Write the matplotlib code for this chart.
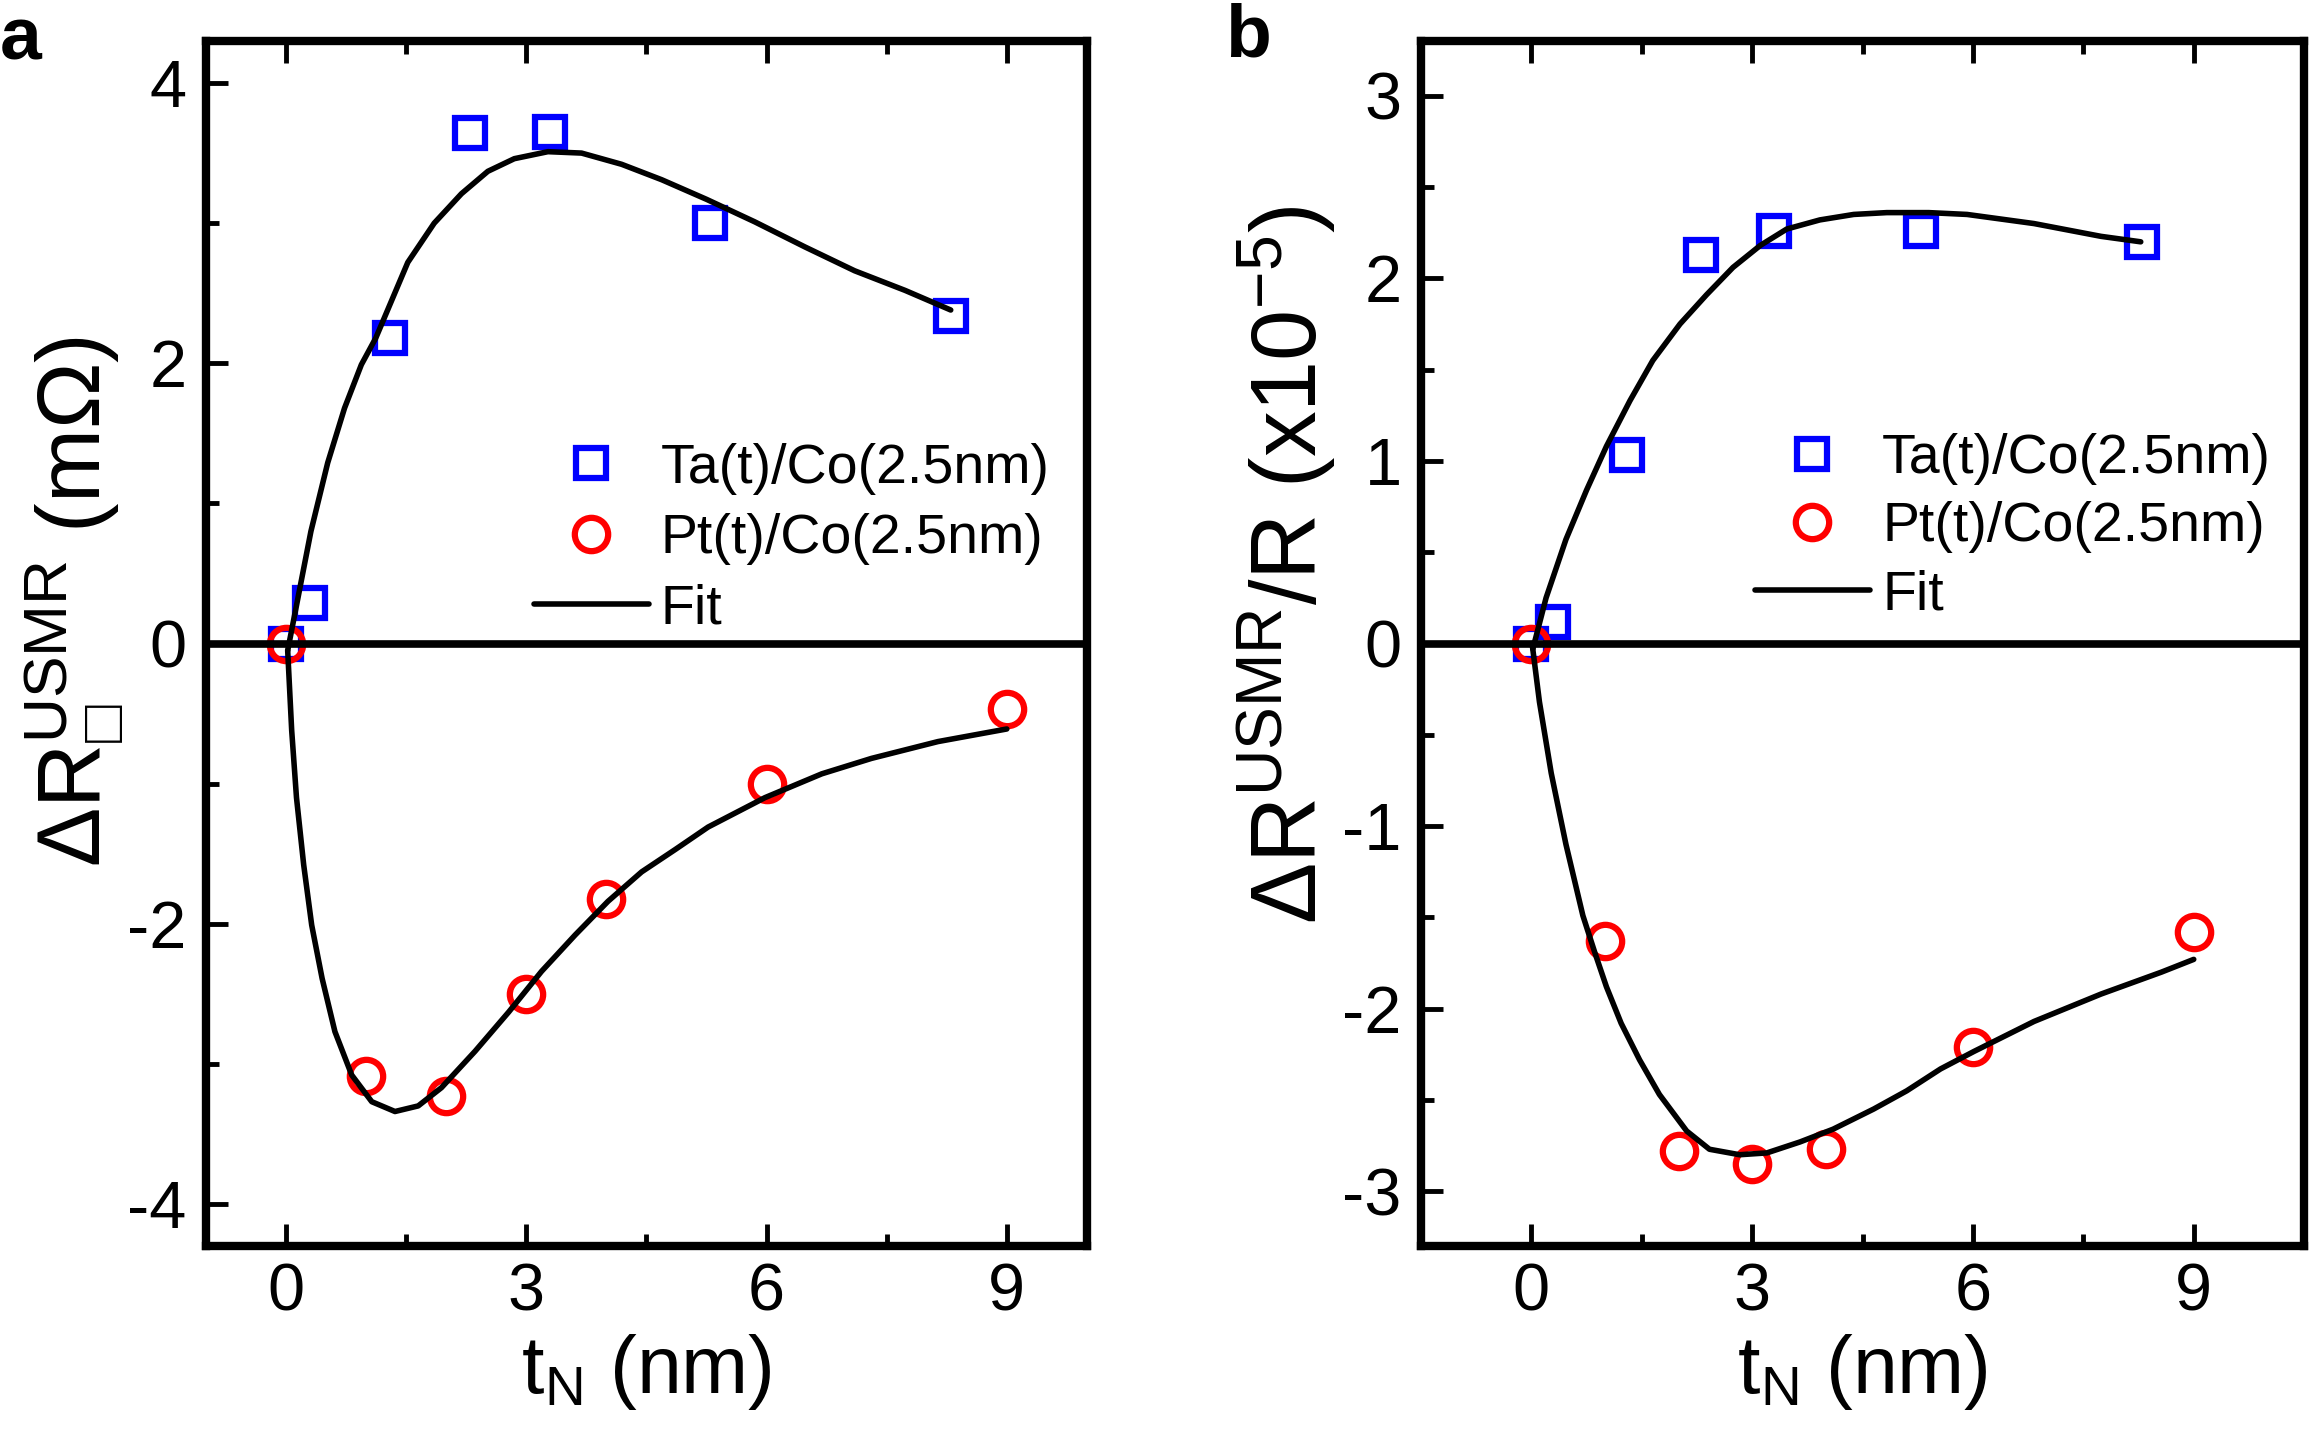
import matplotlib
matplotlib.use('Agg')
import matplotlib.pyplot as plt
from matplotlib.ticker import MultipleLocator

plt.rcParams['font.family'] = ['Liberation Sans', 'DejaVu Sans']
plt.rcParams['mathtext.default'] = 'regular'
plt.rcParams['axes.unicode_minus'] = False

BLUE = '#0000FF'
RED = '#FF0000'

# ── data ──
ta_t = [0, 0.3, 1.3, 2.3, 3.3, 5.3, 8.3]
pt_t = [0, 1, 2, 3, 4, 6, 9]

ta_a = [0, 0.29, 2.18, 3.64, 3.65, 3.00, 2.34]
pt_a = [0, -3.09, -3.23, -2.50, -1.82, -1.00, -0.47]

ta_b = [0, 0.12, 1.03, 2.13, 2.26, 2.26, 2.20]
pt_b = [0, -1.63, -2.78, -2.85, -2.77, -2.21, -1.58]

# fit curves, panel a
fit_ta_a_t = [0.02, 0.15, 0.31, 0.52, 0.73, 0.94, 1.12, 1.52, 1.85, 2.19, 2.52,
              2.85, 3.27, 3.69, 4.19, 4.69, 5.25, 5.85, 6.48, 7.10, 7.73, 8.30]
fit_ta_a = [-0.05, 0.33, 0.80, 1.29, 1.68, 1.99, 2.18, 2.72, 3.00, 3.21, 3.37,
            3.46, 3.51, 3.50, 3.42, 3.31, 3.17, 3.01, 2.83, 2.66, 2.52, 2.38]
fit_pt_a_t = [0.02, 0.07, 0.13, 0.22, 0.32, 0.45, 0.61, 0.82, 1.07, 1.36, 1.65, 1.94,
              2.36, 2.78, 3.19, 3.61, 4.02, 4.44, 4.86, 5.27, 5.98, 6.69, 7.31, 8.14, 9.0]
fit_pt_a = [-0.05, -0.62, -1.10, -1.58, -2.01, -2.39, -2.77, -3.08, -3.27, -3.34, -3.30, -3.17,
            -2.91, -2.63, -2.34, -2.08, -1.84, -1.63, -1.47, -1.31, -1.10, -0.93, -0.82, -0.70, -0.61]

# fit curves, panel b
fit_ta_b_t = [0.02, 0.20, 0.47, 0.75, 1.02, 1.34, 1.65, 2.02, 2.38, 2.74, 3.11, 3.47,
              3.92, 4.38, 4.83, 5.40, 5.92, 6.83, 7.74, 8.28]
fit_ta_b = [-0.03, 0.25, 0.57, 0.84, 1.08, 1.33, 1.55, 1.75, 1.91, 2.06, 2.18, 2.27,
            2.32, 2.35, 2.36, 2.36, 2.35, 2.30, 2.23, 2.20]
fit_pt_b_t = [0.01, 0.11, 0.27, 0.47, 0.70, 0.86, 1.02, 1.22, 1.47, 1.74, 2.11, 2.42, 2.83,
              3.20, 3.65, 4.10, 4.65, 5.10, 5.56, 6.01, 6.83, 7.74, 8.56, 9.0]
fit_pt_b = [0.0, -0.32, -0.71, -1.10, -1.49, -1.69, -1.88, -2.08, -2.28, -2.47, -2.67, -2.77, -2.80,
            -2.79, -2.73, -2.66, -2.55, -2.45, -2.33, -2.235, -2.07, -1.92, -1.80, -1.73]

fig = plt.figure(figsize=(23.12, 14.38), dpi=100)
ax_a = fig.add_axes([0.0891, 0.1335, 0.381, 0.838])
ax_b = fig.add_axes([0.6146, 0.1335, 0.382, 0.838])


def draw(ax, ta, pt, fta_t, fta, fpt_t, fpt):
    h1, = ax.plot(ta_t, ta, 's', ms=21, mfc='none', mec=BLUE, mew=4.5, zorder=3,
                  label='Ta(t)/Co(2.5nm)')
    h2, = ax.plot(pt_t, pt, 'o', ms=24, mfc='none', mec=RED, mew=4.5, zorder=3,
                  label='Pt(t)/Co(2.5nm)')
    h3, = ax.plot(fta_t, fta, '-', color='black', lw=4, zorder=5, label='Fit',
                  solid_capstyle='round', solid_joinstyle='round')
    ax.plot(fpt_t, fpt, '-', color='black', lw=4, zorder=5,
            solid_capstyle='round', solid_joinstyle='round')
    ax.axhline(0, color='black', lw=5.5, zorder=4)

    for s in ax.spines.values():
        s.set_linewidth(6)
    ax.xaxis.set_major_locator(MultipleLocator(3))
    ax.xaxis.set_minor_locator(MultipleLocator(1.5))
    ax.tick_params(which='both', direction='in', top=True, right=False,
                   width=3.5, labelsize=48)
    ax.tick_params(which='major', length=16)
    ax.tick_params(which='minor', length=9)
    ax.tick_params(axis='x', pad=12)
    ax.tick_params(axis='y', pad=14)
    ax.set_xlabel('$t_N$ (nm)', fontsize=58, labelpad=5)
    return [h1, h2, h3]


leg_kw = dict(loc='upper left', frameon=False, fontsize=40, numpoints=1,
              handlelength=2.07, handletextpad=0.22, borderpad=0, borderaxespad=0)

handles = draw(ax_a, ta_a, pt_a, fit_ta_a_t, fit_ta_a, fit_pt_a_t, fit_pt_a)
ax_a.set_xlim(-1, 10)
ax_a.set_ylim(-4.3, 4.3)
ax_a.yaxis.set_major_locator(MultipleLocator(2))
ax_a.yaxis.set_minor_locator(MultipleLocator(1))
ax_a.set_ylabel('$ΔR_{□}^{USMR}$ (mΩ)', fontsize=64, labelpad=1)
ax_a.yaxis.label.set_y(0.535)
ax_a.legend(handles=handles, bbox_to_anchor=(0.372, 0.6665), labelspacing=0.33, **leg_kw)

handles = draw(ax_b, ta_b, pt_b, fit_ta_b_t, fit_ta_b, fit_pt_b_t, fit_pt_b)
ax_b.set_xlim(-1.5, 10.5)
ax_b.set_ylim(-3.3, 3.3)
ax_b.yaxis.set_major_locator(MultipleLocator(1))
ax_b.yaxis.set_minor_locator(MultipleLocator(0.5))
ax_b.set_ylabel('$ΔR^{USMR}$/R (x10$^{-5}$)', fontsize=66, labelpad=3)
ax_b.yaxis.label.set_y(0.565)
ax_b.legend(handles=handles, bbox_to_anchor=(0.378, 0.6747), labelspacing=0.29, **leg_kw)

fig.text(0.0, 0.972, 'a', fontsize=54, fontweight='bold', va='center', ha='left')
fig.text(0.530, 0.974, 'b', fontsize=54, fontweight='bold', va='center', ha='left')

fig.savefig('out.png', dpi=100, facecolor='white')
